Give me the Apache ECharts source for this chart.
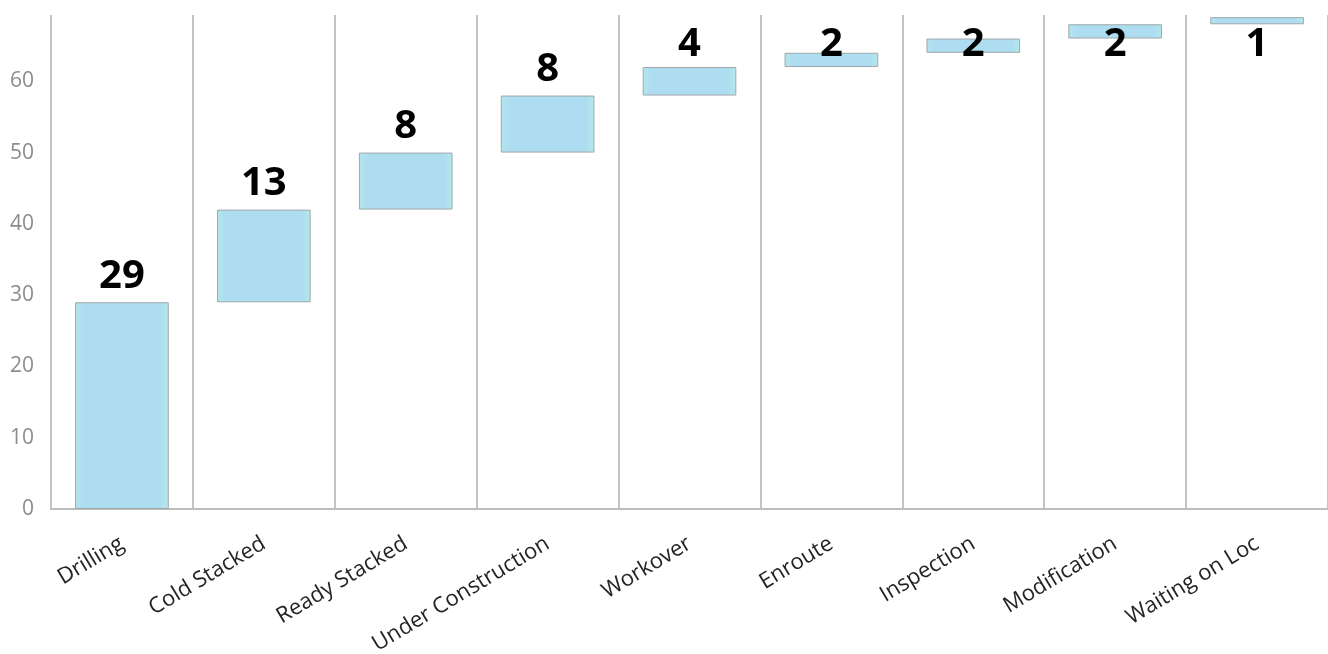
<!DOCTYPE html>
<html>
<head>
<meta charset="utf-8">
<script src="https://cdn.jsdelivr.net/npm/echarts@6/dist/echarts.min.js"></script>
<style>
  html, body { margin: 0; padding: 0; background: #fff; }
  #chart { width: 1328px; height: 654px; }
</style>
</head>
<body>
<div id="chart"></div>
<script>
var categories = ['Drilling', 'Cold Stacked', 'Ready Stacked', 'Under Construction', 'Workover', 'Enroute', 'Inspection', 'Modification', 'Waiting on Loc'];
var values = [29, 13, 8, 8, 4, 2, 2, 2, 1];
var yTicks = [0, 10, 20, 30, 40, 50, 60];

// waterfall offsets derived from the values
var bases = [];
var running = 0;
for (var i = 0; i < values.length; i++) { bases.push(running); running += values[i]; }

var chart = echarts.init(document.getElementById('chart'));
chart.setOption({
  animation: false,
  grid: { left: 51, right: 0, top: 15, bottom: 145, containLabel: false, outerBoundsMode: 'none' },
  xAxis: {
    type: 'category',
    data: categories,
    axisTick: { show: false },
    axisLine: { show: true, lineStyle: { color: '#bdbdbd', width: 2 } },
    splitLine: { show: true, lineStyle: { color: '#c4c4c4', width: 2 } },
    axisLabel: {
      rotate: 31, margin: 33, interval: 0,
      fontFamily: 'Open Sans', fontSize: 22, color: '#252423'
    }
  },
  yAxis: {
    type: 'value', min: 0, max: 69.3, interval: 10,
    axisLine: { show: false }, axisTick: { show: false },
    splitLine: { show: false },
    axisLabel: {
      showMaxLabel: false, margin: 17,
      fontFamily: 'Open Sans', fontSize: 21, color: '#8c8c8c',
      formatter: function (v) { return yTicks.indexOf(v) >= 0 ? String(v) : ''; }
    }
  },
  series: [
    {
      type: 'bar', stack: 'total', silent: true, barWidth: '66%',
      itemStyle: { color: 'transparent', borderColor: 'transparent' },
      data: bases
    },
    {
      type: 'bar', stack: 'total', barWidth: '66%',
      itemStyle: {
        color: {
          type: 'linear', x: 0, y: 0, x2: 1, y2: 0,
          colorStops: [
            { offset: 0, color: '#b3e6ee' },
            { offset: 0.1, color: '#aedcf0' },
            { offset: 0.9, color: '#aedcf0' },
            { offset: 1, color: '#b3e8ec' }
          ]
        },
        borderColor: '#9fa8aa', borderWidth: 1
      },
      label: {
        show: true, position: 'top', distance: 6,
        fontFamily: 'Open Sans', fontWeight: 'bold', fontSize: 40, color: '#000'
      },
      labelLayout: function (p) {
        var r = p.labelRect;
        if (r.y < 25) {
          return { x: r.x + r.width / 2, y: 25, align: 'center', verticalAlign: 'top' };
        }
        return {};
      },
      data: values
    }
  ]
});
</script>
</body>
</html>
